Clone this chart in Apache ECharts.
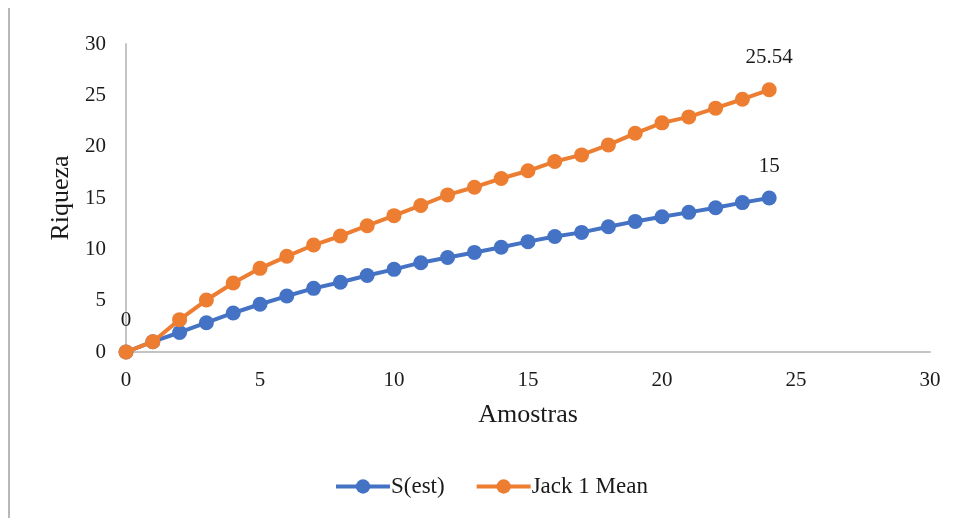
<!DOCTYPE html>
<html>
<head>
<meta charset="utf-8">
<script src="https://cdn.jsdelivr.net/npm/echarts@6/dist/echarts.min.js"></script>
<style>
  html, body { margin: 0; padding: 0; background: #ffffff; }
  #chart { width: 960px; height: 518px; }
</style>
</head>
<body>
<div id="chart"></div>
<script>
// Sample counts (x) and richness estimates (y)
const amostras = [0, 1, 2, 3, 4, 5, 6, 7, 8, 9, 10, 11, 12, 13, 14, 15, 16, 17, 18, 19, 20, 21, 22, 23, 24];
const sEst = [0, 1, 1.9, 2.85, 3.8, 4.65, 5.45, 6.2, 6.8, 7.45, 8.05, 8.7, 9.2, 9.7, 10.2, 10.75, 11.25, 11.65, 12.2, 12.72, 13.17, 13.6, 14.05, 14.55, 15];
const jack1Mean = [0, 1, 3.15, 5.06, 6.72, 8.15, 9.32, 10.42, 11.3, 12.3, 13.28, 14.27, 15.3, 16.05, 16.9, 17.65, 18.55, 19.2, 20.17, 21.3, 22.32, 22.9, 23.75, 24.62, 25.54];
const seriesNames = ['S(est)', 'Jack 1 Mean'];
const axisTicks = { min: 0, max: 30, interval: 5 };

const SERIF = '"Liberation Serif", "Times New Roman", serif';
const BLUE = '#4472C4';
const ORANGE = '#ED7D31';
const AXIS_GREY = '#c4c4c4';
const INK = '#1a1a1a';

// Points that carry a value label: first point of S(est), last point of each series
function buildData(values, labelled) {
  return amostras.map((x, i) => {
    const item = { value: [x, values[i]] };
    if (labelled.includes(i)) {
      item.label = { show: true };
    }
    return item;
  });
}

const pointLabel = {
  show: false,
  position: 'top',
  distance: 14,
  fontFamily: SERIF,
  fontSize: 21,
  color: INK,
  formatter: p => String(p.value[1])
};

const chart = echarts.init(document.getElementById('chart'), null, { renderer: 'canvas' });

chart.setOption({
  animation: false,
  backgroundColor: '#ffffff',
  textStyle: { fontFamily: SERIF },
  grid: { left: 126, right: 30, top: 44, bottom: 166, containLabel: false },
  xAxis: {
    type: 'value',
    min: axisTicks.min,
    max: axisTicks.max,
    interval: axisTicks.interval,
    name: 'Amostras',
    nameLocation: 'middle',
    nameGap: 50,
    nameTextStyle: { fontFamily: SERIF, fontSize: 26, color: INK },
    axisLine: { show: true, lineStyle: { color: AXIS_GREY, width: 2 } },
    axisTick: { show: false },
    splitLine: { show: false },
    axisLabel: { fontFamily: SERIF, fontSize: 21, color: INK, margin: 18 }
  },
  yAxis: {
    type: 'value',
    min: axisTicks.min,
    max: axisTicks.max,
    interval: axisTicks.interval,
    name: 'Riqueza',
    nameLocation: 'middle',
    nameGap: 51,
    nameRotate: 90,
    nameTextStyle: { fontFamily: SERIF, fontSize: 26, color: INK },
    axisLine: { show: true, lineStyle: { color: AXIS_GREY, width: 2 } },
    axisTick: { show: false },
    splitLine: { show: false },
    axisLabel: { fontFamily: SERIF, fontSize: 21, color: INK, margin: 20 }
  },
  legend: {
    left: 329,
    top: 470,
    itemWidth: 54,
    itemHeight: 18,
    itemGap: 30,
    lineStyle: { width: 4 },
    textStyle: { fontFamily: SERIF, fontSize: 23, color: INK, padding: [0, 0, 0, -4] },
    data: seriesNames
  },
  series: [
    {
      name: seriesNames[0],
      type: 'line',
      data: buildData(sEst, [0, sEst.length - 1]),
      symbol: 'circle',
      symbolSize: 15,
      color: BLUE,
      lineStyle: { color: BLUE, width: 4 },
      itemStyle: { color: BLUE },
      label: pointLabel,
      z: 2
    },
    {
      name: seriesNames[1],
      type: 'line',
      data: buildData(jack1Mean, [jack1Mean.length - 1]),
      symbol: 'circle',
      symbolSize: 15,
      color: ORANGE,
      lineStyle: { color: ORANGE, width: 4 },
      itemStyle: { color: ORANGE },
      label: pointLabel,
      z: 3
    }
  ],
  graphic: [
    {
      type: 'line',
      shape: { x1: 9, y1: 8, x2: 9, y2: 518 },
      style: { stroke: '#b8b8b8', lineWidth: 2 }
    }
  ]
});
</script>
</body>
</html>
